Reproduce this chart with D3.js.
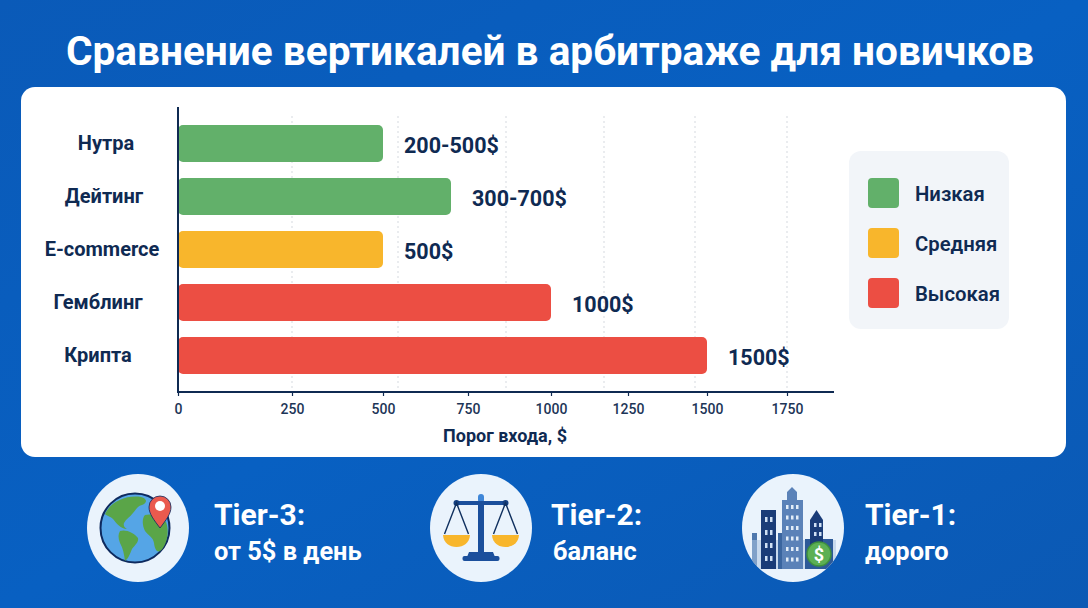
<!DOCTYPE html>
<html lang="ru">
<head>
<meta charset="utf-8">
<script src="https://d3js.org/d3.v7.min.js"></script>
<style>
  html, body { margin: 0; padding: 0; background: #0a5cbc; }
  svg { display: block; }
  text { font-family: Roboto, "Noto Sans", sans-serif; }
</style>
</head>
<body>
<svg id="chart" width="1088" height="608"></svg>
<script>
// Chart content
const titleText = "Сравнение вертикалей в арбитраже для новичков";
const categories = ["Нутра", "Дейтинг", "E-commerce", "Гемблинг", "Крипта"];
const entryCost = [500, 700, 500, 1000, 1500];
const valueLabels = ["200-500$", "300-700$", "500$", "1000$", "1500$"];
const riskLevels = ["low", "low", "mid", "high", "high"];
const riskKeys = ["low", "mid", "high"];
const riskNames = ["Низкая", "Средняя", "Высокая"];
const axisTicks = [0, 250, 500, 750, 1000, 1250, 1500, 1750];
const axisTitle = "Порог входа, $";
const gridValues = [250, 500, 750, 1000, 1250, 1750];
const tierHeads = ["Tier-3:", "Tier-2:", "Tier-1:"];
const tierNotes = ["от 5$ в день", "баланс", "дорого"];

// Palette
const navy = "#0f2a52";
const riskColor = d3.scaleOrdinal().domain(riskKeys).range(["#62b06a", "#f8b62c", "#ec4e43"]);

const svg = d3.select("#chart");
const defs = svg.append("defs");
const bg = defs.append("linearGradient").attr("id", "bg").attr("x1", 0).attr("y1", 0).attr("x2", 1).attr("y2", 1);
bg.append("stop").attr("offset", 0).attr("stop-color", "#0a5ab8");
bg.append("stop").attr("offset", 0.5).attr("stop-color", "#0860c2");
bg.append("stop").attr("offset", 1).attr("stop-color", "#0b59b4");

svg.append("rect").attr("width", 1088).attr("height", 608).attr("fill", "url(#bg)");
svg.append("text").attr("x", 550).attr("y", 65).attr("text-anchor", "middle")
  .attr("fill", "#fff").attr("font-size", 40.6).attr("font-weight", 700).text(titleText);

svg.append("rect").attr("x", 21).attr("y", 87).attr("width", 1045).attr("height", 370)
  .attr("rx", 14).attr("fill", "#fff");

// The value axis is spaced unevenly, so the scale is piecewise
const x = d3.scaleLinear().domain(axisTicks).range([178, 292, 383, 468, 551, 628, 707, 787]);
const gridX = d3.scaleLinear().domain(gridValues).range([292, 398, 506, 604, 695, 787]);
const y = d3.scaleBand().domain(categories).range([117, 382]).paddingInner(0.3).paddingOuter(0.15);
const axisY = 392;

// Dotted guides
svg.append("g").selectAll("line").data(gridValues).join("line")
  .attr("x1", d => gridX(d)).attr("x2", d => gridX(d))
  .attr("y1", 116).attr("y2", axisY)
  .attr("stroke", "#d5d9df").attr("stroke-width", 1).attr("stroke-dasharray", "2 3");

// Bars
svg.append("g").selectAll("rect").data(categories).join("rect")
  .attr("x", x(0)).attr("y", d => y(d))
  .attr("width", (d, i) => x(entryCost[i]) - x(0))
  .attr("height", y.bandwidth()).attr("rx", 5)
  .attr("fill", (d, i) => riskColor(riskLevels[i]));

// Value labels sit just past the end of each bar
svg.append("g").selectAll("text").data(categories).join("text")
  .attr("x", (d, i) => x(entryCost[i]) + 21)
  .attr("y", d => y(d) + y.bandwidth() / 2 + 9)
  .attr("fill", navy).attr("font-size", 21.5).attr("font-weight", 700)
  .text((d, i) => valueLabels[i]);

// Category labels
const labelCentre = d3.scaleOrdinal().domain(categories).range([106, 104, 102, 98, 98]);
svg.append("g").selectAll("text").data(categories).join("text")
  .attr("x", d => labelCentre(d)).attr("y", d => y(d) + y.bandwidth() / 2 + 6)
  .attr("text-anchor", "middle").attr("fill", navy)
  .attr("font-size", 20).attr("font-weight", 700).text(d => d);

// Axes
const xAxis = svg.append("g").attr("transform", `translate(0,${axisY})`)
  .call(d3.axisBottom(x).tickValues(axisTicks).tickSize(4).tickPadding(8).tickFormat(d3.format("d")));
xAxis.select(".domain").remove();
xAxis.selectAll("line").attr("stroke", navy).attr("stroke-width", 1.2);
xAxis.selectAll("text").attr("fill", "#1d3557").attr("font-size", 14).attr("font-weight", 500)
  .style("font-family", "Roboto, sans-serif");
svg.append("line").attr("x1", 177).attr("x2", 834).attr("y1", axisY).attr("y2", axisY)
  .attr("stroke", navy).attr("stroke-width", 2);
svg.append("line").attr("x1", 178).attr("x2", 178).attr("y1", 107).attr("y2", axisY + 1)
  .attr("stroke", navy).attr("stroke-width", 2);
svg.append("text").attr("x", 505).attr("y", 442).attr("text-anchor", "middle")
  .attr("fill", navy).attr("font-size", 18).attr("font-weight", 700).text(axisTitle);

// Legend
svg.append("rect").attr("x", 849).attr("y", 151).attr("width", 160).attr("height", 178)
  .attr("rx", 12).attr("fill", "#f2f5f9");
const legendY = d3.scalePoint().domain(riskKeys).range([193, 293]);
const legendRow = svg.append("g").selectAll("g").data(riskKeys).join("g")
  .attr("transform", d => `translate(0,${legendY(d)})`);
legendRow.append("rect").attr("x", 868).attr("y", -15).attr("width", 31).attr("height", 30)
  .attr("rx", 4).attr("fill", d => riskColor(d));
legendRow.append("text").attr("x", 915).attr("y", 8).attr("fill", navy)
  .attr("font-size", 20.3).attr("font-weight", 600).text((d, i) => riskNames[i]);

// Tier captions
const tierHeadX = [214, 551, 865];
const tierNoteX = [214, 553, 865];
svg.append("g").selectAll("text").data(tierHeads).join("text")
  .attr("x", (d, i) => tierHeadX[i]).attr("y", 525).attr("fill", "#fff")
  .attr("font-size", 30).attr("font-weight", 700).text(d => d);
svg.append("g").selectAll("text").data(tierNotes).join("text")
  .attr("x", (d, i) => tierNoteX[i]).attr("y", 560).attr("fill", "#fff")
  .attr("font-size", 25.4).attr("font-weight", 700).text(d => d);

// Icon discs
[138, 481, 793].forEach(cx => {
  svg.append("ellipse").attr("cx", cx).attr("cy", 528).attr("rx", 51).attr("ry", 54).attr("fill", "#eaf3fc");
});

// Globe with a location pin
const globe = svg.append("g").attr("transform", "translate(135,528)");
globe.append("circle").attr("r", 34.5).attr("fill", "#55a5e6").attr("stroke", "#0e2a5e").attr("stroke-width", 2);
const land = "#5aa548";
[
  "M-30,-14 C-24,-27 -8,-33 6,-31 C13,-29 12,-25 7,-23 C2,-22 1,-18 -2,-15 C-5,-11 -9,-9 -11,-5 C-12,-2 -10,0 -8,1 C-14,1 -19,-5 -22,-9 C-25,-12 -28,-12 -30,-14 Z",
  "M-15,3 C-9,1 -1,5 3,10 C4,14 0,17 -3,21 C-5,26 -7,31 -10,33 C-11,26 -12,20 -15,15 C-17,10 -17,6 -15,3 Z",
  "M10,-13 C16,-15 26,-12 31,-6 C34,2 33,12 28,20 C24,26 20,24 19,15 C18,9 14,8 10,3 C7,-3 7,-10 10,-13 Z"
].forEach(d => globe.append("path").attr("d", d).attr("fill", land));
const pin = svg.append("g").attr("transform", "translate(160,508)");
pin.append("path").attr("d", "M0,20 C-6,12 -11,6 -11,-1 A11,11 0 1 1 11,-1 C11,6 6,12 0,20 Z")
  .attr("fill", "#ea5a4e").attr("stroke", "#0e2a5e").attr("stroke-width", 0.8);
pin.append("circle").attr("cy", -2).attr("r", 5).attr("fill", "#fff");

// Balance scales
const scales = svg.append("g").attr("transform", "translate(481,503)");
const scaleBlue = "#1b4f9c";
scales.append("rect").attr("x", -3).attr("y", -9).attr("width", 6).attr("height", 9).attr("rx", 3).attr("fill", "#3f86d8");
scales.append("rect").attr("x", -3).attr("y", -2).attr("width", 6).attr("height", 54).attr("fill", scaleBlue);
scales.append("rect").attr("x", -24).attr("y", -2).attr("width", 48).attr("height", 4).attr("fill", scaleBlue);
scales.append("path").attr("d", "M-12,49 H12 L14,54 H-14 Z").attr("fill", scaleBlue);
scales.append("rect").attr("x", -18.5).attr("y", 53).attr("width", 37).attr("height", 5).attr("rx", 2).attr("fill", scaleBlue);
[-24.5, 24.5].forEach(dx => {
  const side = scales.append("g").attr("transform", `translate(${dx},0)`);
  side.append("circle").attr("r", 3).attr("fill", "#143f80");
  side.append("path").attr("d", "M-12,31 L0,0 L12,31").attr("fill", "none").attr("stroke", "#10305f").attr("stroke-width", 1.4);
  side.append("path").attr("d", "M-13.5,32 H13.5 C13,40 7,44 0,44 C-7,44 -13,40 -13.5,32 Z").attr("fill", "#f8b62c");
});

// City skyline, kept inside its disc
const clip = defs.append("clipPath").attr("id", "cityClip");
clip.append("ellipse").attr("cx", 793).attr("cy", 528).attr("rx", 51).attr("ry", 54);
const city = svg.append("g").attr("clip-path", "url(#cityClip)");
const dark = "#1a3c78", mid = "#5b82b8", pale = "#aac2e0";
city.append("rect").attr("x", 752).attr("y", 533).attr("width", 5).attr("height", 36).attr("fill", "#4f78ad");
city.append("rect").attr("x", 752).attr("y", 540).attr("width", 84).attr("height", 29).attr("fill", pale).attr("opacity", 0.55);
city.append("rect").attr("x", 761).attr("y", 510).attr("width", 15).attr("height", 59).attr("fill", dark);
city.append("rect").attr("x", 778).attr("y", 533).attr("width", 6).attr("height", 36).attr("fill", "#3a659f");
city.append("path").attr("d", "M782,500 H787 V492 L792,487 L797,492 V500 H803 V569 H782 Z").attr("fill", mid);
city.append("rect").attr("x", 805).attr("y", 539).attr("width", 28).attr("height", 30).attr("fill", "#2d5a98");
city.append("path").attr("d", "M810,520 L816.5,510 L823,520 V560 H810 Z").attr("fill", dark);
d3.range(4).forEach(r => d3.range(2).forEach(c => {
  city.append("rect").attr("x", 765 + c * 5).attr("y", 517 + r * 13).attr("width", 2.5).attr("height", 5).attr("fill", "#cfe0f4");
}));
d3.range(6).forEach(r => d3.range(3).forEach(c => {
  city.append("rect").attr("x", 786 + c * 5).attr("y", 505 + r * 10.5).attr("width", 2.5).attr("height", 4).attr("fill", "#e3edf8");
}));
d3.range(2).forEach(r => d3.range(2).forEach(c => {
  city.append("rect").attr("x", 814 + c * 5).attr("y", 523 + r * 9).attr("width", 2.5).attr("height", 4).attr("fill", "#cfe0f4");
}));
svg.append("circle").attr("cx", 819).attr("cy", 554).attr("r", 12).attr("fill", "#5cb054").attr("stroke", "#3f8f3f").attr("stroke-width", 1.5);
svg.append("text").attr("x", 819).attr("y", 560.5).attr("text-anchor", "middle").attr("fill", "#fff")
  .attr("font-size", 18).attr("font-weight", 700).text("$");
</script>
</body>
</html>
